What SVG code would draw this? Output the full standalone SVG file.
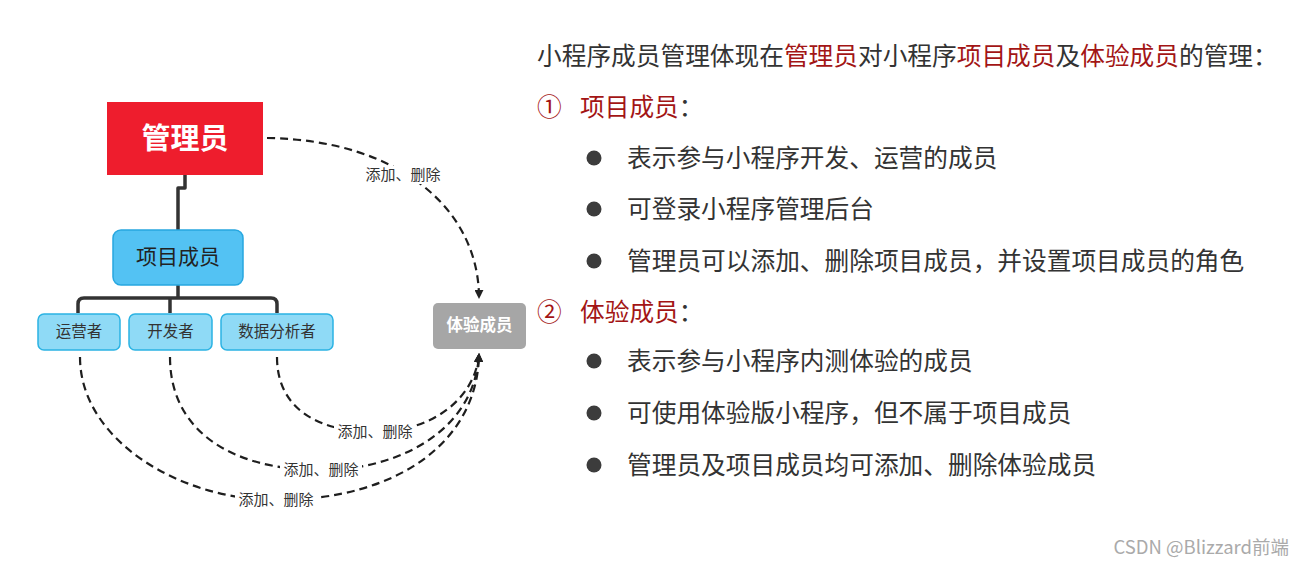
<svg xmlns="http://www.w3.org/2000/svg" width="1302" height="567" viewBox="0 0 1302 567">
<defs>
<style>
text{font-family:"Noto Sans CJK SC","Noto Sans",sans-serif}
.lbl{font-size:15px;fill:#333;text-anchor:middle}
.lblbg{fill:#fff}
.dash{fill:none;stroke:#1e1e1e;stroke-width:2.2;stroke-dasharray:8 5}
.tree{fill:none;stroke:#333;stroke-width:3.5;stroke-linejoin:round}
.child{fill:#8fdaf6;stroke:#2bb3e3;stroke-width:1.5}
.ctext{font-size:15.5px;fill:#333;text-anchor:middle}
.body{font-size:24.7px;fill:#333}
.red{fill:#a31515}
.bullet{fill:#3c3c3c}
</style>
<marker id="arr" viewBox="0 0 10 10" refX="9" refY="5" markerWidth="9" markerHeight="9" markerUnits="userSpaceOnUse" orient="auto">
<path d="M0,0 L10,5 L0,10 Z" fill="#222"/>
</marker>
</defs>
<rect width="1302" height="567" fill="#fff"/>

<g id="connectors">
<path class="tree" d="M185,175 V188 H178 V230"/>
<path class="tree" d="M178,285 V298"/>
<path class="tree" d="M78,313 V304 Q78,298 84,298 H271 Q277,298 277,304 V313"/>
<path class="tree" d="M170,298 V313"/>
<path class="dash" d="M267,138 C400,140 479,210 479,298" marker-end="url(#arr)"/>
<path class="dash" d="M80,357 C80,440 180,500 276,500 C400,500 478,440 479,354" marker-end="url(#arr)"/>
<path class="dash" d="M170,357 C170,430 230,470 321,470 C400,470 475,430 479,354" marker-end="url(#arr)"/>
<path class="dash" d="M277,357 C277,410 320,432 375,432 C430,432 475,400 479,354" marker-end="url(#arr)"/>
<rect class="lblbg" x="362" y="166" width="82" height="18"/>
<text class="lbl" x="403" y="180">添加、删除</text>
<rect class="lblbg" x="334" y="423" width="82" height="18"/>
<text class="lbl" x="375" y="437">添加、删除</text>
<rect class="lblbg" x="280" y="461" width="82" height="18"/>
<text class="lbl" x="321" y="475">添加、删除</text>
<rect class="lblbg" x="235" y="491" width="82" height="18"/>
<text class="lbl" x="276" y="505">添加、删除</text>
</g>

<g id="admin">
<rect x="107" y="102" width="156" height="73" fill="#ee1d2d"/>
<text x="185" y="149" font-size="29" font-weight="bold" fill="#fff" text-anchor="middle">管理员</text>
</g>

<g id="project-members">
<rect x="113" y="230" width="130" height="55" rx="8" fill="#53c2f3" stroke="#27a7e0" stroke-width="1.5"/>
<text x="178" y="264" font-size="21" fill="#222" text-anchor="middle">项目成员</text>
</g>

<g id="operator">
<rect class="child" x="38" y="314" width="82" height="36" rx="6"/>
<text class="ctext" x="79" y="337">运营者</text>
</g>
<g id="developer">
<rect class="child" x="129" y="314" width="83" height="36" rx="6"/>
<text class="ctext" x="170.5" y="337">开发者</text>
</g>
<g id="analyst">
<rect class="child" x="221" y="314" width="112" height="36" rx="6"/>
<text class="ctext" x="277" y="337">数据分析者</text>
</g>

<g id="trial-members">
<rect x="433" y="303" width="93" height="46" rx="5" fill="#a6a6a6"/>
<text x="479.5" y="331" font-size="16.5" font-weight="bold" fill="#fff" text-anchor="middle">体验成员</text>
</g>

<g id="description">
<text class="body" x="537" y="65">小程序成员管理体现在<tspan class="red">管理员</tspan>对小程序<tspan class="red">项目成员</tspan>及<tspan class="red">体验成员</tspan>的管理：</text>
<text class="body" x="537" y="116"><tspan class="red">①</tspan><tspan class="red" x="580">项目成员</tspan>：</text>
<circle class="bullet" cx="594" cy="158" r="7.5"/>
<text class="body" x="627" y="167">表示参与小程序开发、运营的成员</text>
<circle class="bullet" cx="594" cy="209" r="7.5"/>
<text class="body" x="627" y="218">可登录小程序管理后台</text>
<circle class="bullet" cx="594" cy="261" r="7.5"/>
<text class="body" x="627" y="270">管理员可以添加、删除项目成员，并设置项目成员的角色</text>
<text class="body" x="537" y="321"><tspan class="red">②</tspan><tspan class="red" x="580">体验成员</tspan>：</text>
<circle class="bullet" cx="594" cy="361" r="7.5"/>
<text class="body" x="627" y="370">表示参与小程序内测体验的成员</text>
<circle class="bullet" cx="594" cy="413" r="7.5"/>
<text class="body" x="627" y="422">可使用体验版小程序，但不属于项目成员</text>
<circle class="bullet" cx="594" cy="465" r="7.5"/>
<text class="body" x="627" y="474">管理员及项目成员均可添加、删除体验成员</text>
</g>

<text x="1289" y="554" font-size="18.5" fill="#aaa" text-anchor="end">CSDN @Blizzard前端</text>
</svg>
